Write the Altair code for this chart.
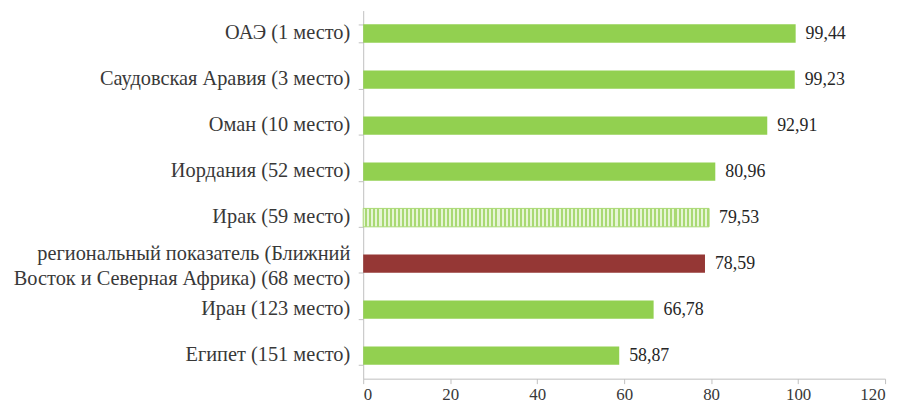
import altair as alt
import pandas as pd

categories = [
    "ОАЭ (1 место)",
    "Саудовская Аравия (3 место)",
    "Оман (10 место)",
    "Иордания (52 место)",
    "Ирак (59 место)",
    "региональный показатель (Ближний\nВосток и Северная Африка) (68 место)",
    "Иран (123 место)",
    "Египет (151 место)",
]
values = [99.44, 99.23, 92.91, 80.96, 79.53, 78.59, 66.78, 58.87]
value_labels = ["99,44", "99,23", "92,91", "80,96", "79,53", "78,59", "66,78", "58,87"]
kinds = ["country", "country", "country", "country", "iraq", "region", "country", "country"]

df = pd.DataFrame({"cat": categories, "value": values, "label": value_labels, "kind": kinds})

GREEN = "#92d050"
RED = "#953735"
TEXT = "#383838"
FONT = "Liberation Serif"

stops = []
n = 170
for i in range(n):
    a = i / n
    b = (i + 1) / n
    c = "#e6f5d5" if i % 2 == 0 else "#a9d973"
    stops.append(alt.GradientStop(offset=a, color=c))
    stops.append(alt.GradientStop(offset=b, color=c))
pattern = alt.LinearGradient(gradient="linear", stops=stops, x1=0, x2=1, y1=0, y2=0)

y = alt.Y(
    "cat:N",
    sort=categories,
    title=None,
    scale=alt.Scale(paddingInner=0.6, paddingOuter=0.3),
    axis=alt.Axis(
        labels=False,
        tickBand="extent",
        tickSize=5,
        tickColor="#bfbfbf",
        domainColor="#bfbfbf",
    ),
)
x = alt.X(
    "value:Q",
    title=None,
    scale=alt.Scale(domain=[0, 120], nice=False),
    axis=alt.Axis(
        values=[0, 20, 40, 60, 80, 100, 120],
        grid=False,
        labelFont=FONT,
        labelFontSize=17,
        labelColor=TEXT,
        tickSize=5,
        tickColor="#bfbfbf",
        domainColor="#bfbfbf",
        labelPadding=3,
    ),
)

base = alt.Chart(df)

bars_main = base.transform_filter("datum.kind != 'iraq'").mark_bar().encode(
    y=y,
    x=x,
    color=alt.Color(
        "kind:N",
        scale=alt.Scale(domain=["country", "region"], range=[GREEN, RED]),
        legend=None,
    ),
)
bars_iraq = base.transform_filter("datum.kind == 'iraq'").mark_bar(
    fill=pattern, stroke="#a9d973", strokeWidth=1
).encode(y=y, x=x)

text = base.mark_text(
    align="left", baseline="middle", dx=10, font=FONT, fontSize=18, color="#262626"
).encode(y=y, x=x, text="label:N")

ylabels = base.transform_calculate(
    off="indexof(datum.cat, '\\n') >= 0 ? 0 : 9"
).mark_text(
    align="right", baseline="middle", font=FONT, fontSize=20.5, color=TEXT,
    lineBreak="\n", lineHeight=25,
).encode(
    y=y,
    x=alt.value(-13),
    yOffset=alt.YOffset("off:Q", scale=None),
    text="cat:N",
)

chart = (
    alt.layer(bars_main, bars_iraq, text, ylabels)
    .properties(
        width=526,
        height=371,
        autosize=alt.AutoSizeParams(type="none"),
        padding={"left": 358, "top": 1, "right": 10, "bottom": 30},
    )
    .configure_view(stroke=None)
)

chart.save("out.html", embed_options={"renderer": "svg", "actions": False})
